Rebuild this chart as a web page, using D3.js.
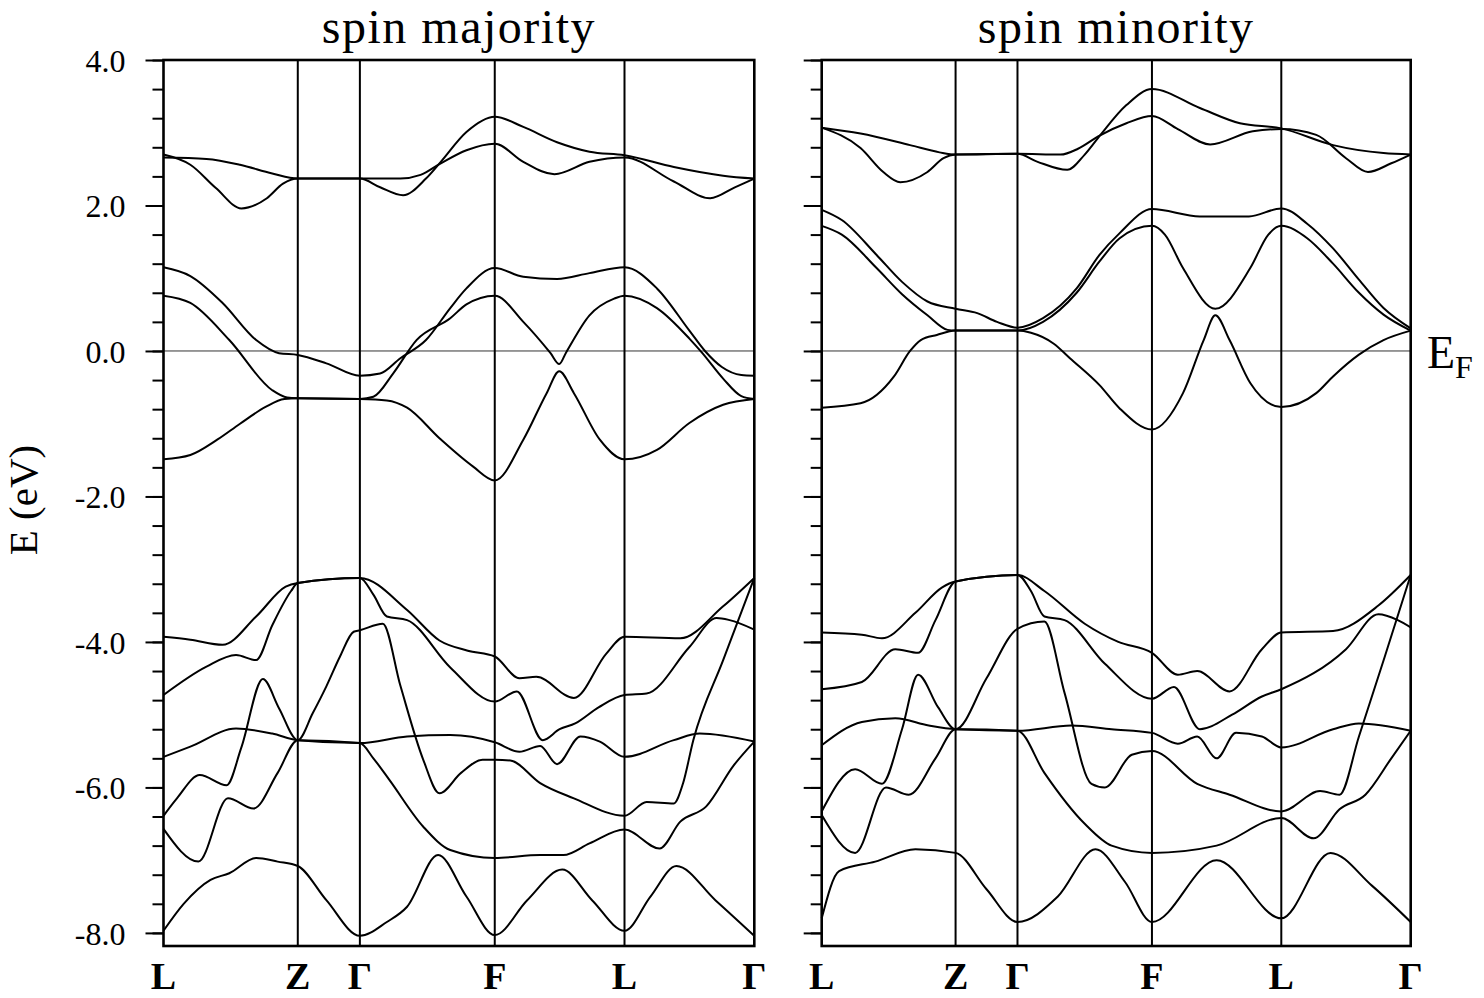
<!DOCTYPE html>
<html>
<head>
<meta charset="utf-8">
<script src="https://cdn.jsdelivr.net/npm/d3@7"></script>
<style>
  body { margin: 0; background: #fff; }
  text { font-family: "Liberation Serif", "DejaVu Serif", serif; fill: #000; }
</style>
</head>
<body>
<div class="bands"></div>
<script>
// k-path
const kLabels = ["L", "Z", "Γ", "F", "L", "Γ"];
const kNodes = [0, 1, 2, 3, 4, 5];
const kFrac = [0, 0.2273, 0.3324, 0.5607, 0.7803, 1];

// energy ticks (eV)
const yMajor = [4, 2, 0, -2, -4, -6, -8];
const yMinor = d3.range(-8, 4.01, 0.4);

// spin majority bands: [k node coordinate, E (eV)]
const maj_c1 = [[0,2.70],[0.2,2.56],[0.39,2.24],[0.58,1.96],[0.77,2.10],[0.89,2.30],[1,2.37],[2,2.37],[2.15,2.25],[2.32,2.14],[2.49,2.37],[2.6,2.6],[2.79,3.01],[3,3.22],[3.22,3.08],[3.48,2.87],[3.73,2.74],[4,2.69],[4.38,2.53],[4.76,2.41],[5,2.37]];
const maj_c2 = [[0,2.66],[0.32,2.64],[0.57,2.56],[0.81,2.44],[1,2.37],[2,2.37],[2.3,2.37],[2.45,2.42],[2.6,2.58],[2.79,2.76],[3,2.85],[3.22,2.60],[3.46,2.43],[3.73,2.60],[4,2.66],[4.38,2.33],[4.66,2.10],[4.85,2.25],[5,2.37]];
const maj_b1 = [[0,1.15],[0.2,1.03],[0.44,0.66],[0.69,0.15],[0.86,-0.03],[1,-0.055],[1.46,-0.17],[2,-0.34],[2.15,-0.31],[2.3,-0.1],[2.49,0.15],[2.67,0.59],[2.79,0.86],[3,1.14],[3.22,1.02],[3.48,0.99],[3.73,1.07],[4,1.15],[4.25,0.86],[4.5,0.28],[4.62,0.0],[4.75,-0.22],[4.9,-0.33],[5,-0.34]];
const maj_b2 = [[0,0.76],[0.2,0.66],[0.49,0.15],[0.81,-0.54],[0.92,-0.64],[1,-0.65],[2,-0.66],[2.1,-0.63],[2.25,-0.3],[2.42,0.15],[2.67,0.45],[2.79,0.64],[3,0.76],[3.22,0.40],[3.43,-0.03],[3.497,-0.18],[3.55,-0.02],[3.73,0.49],[3.92,0.72],[4,0.76],[4.25,0.59],[4.5,0.17],[4.6,-0.03],[4.76,-0.38],[4.9,-0.62],[5,-0.66]];
const maj_b3 = [[0,-1.49],[0.2,-1.43],[0.4,-1.22],[0.57,-1.0],[0.76,-0.77],[0.9,-0.66],[1,-0.65],[2,-0.66],[2.2,-0.68],[2.35,-0.78],[2.59,-1.2],[2.84,-1.59],[3,-1.78],[3.22,-1.22],[3.4,-0.58],[3.497,-0.28],[3.61,-0.58],[3.81,-1.22],[4,-1.49],[4.25,-1.36],[4.5,-0.99],[4.76,-0.74],[5,-0.66]];
const maj_t1 = [[0,-3.93],[0.2,-3.97],[0.44,-4.04],[0.69,-3.65],[0.91,-3.24],[1,-3.19],[2,-3.12],[2.35,-3.56],[2.59,-3.98],[2.8,-4.12],[3,-4.20],[3.19,-4.50],[3.32,-4.48],[3.61,-4.77],[3.86,-4.16],[4,-3.93],[4.43,-3.95],[4.76,-3.51],[5,-3.12]];
const maj_t2 = [[0,-4.73],[0.32,-4.34],[0.54,-4.18],[0.69,-4.25],[0.81,-3.77],[0.95,-3.3],[1,-3.19],[2,-3.12],[2.1,-3.35],[2.2,-3.65],[2.35,-3.70],[2.67,-4.35],[3,-4.82],[3.17,-4.68],[3.37,-5.35],[3.5,-5.2],[3.62,-5.12],[3.8,-4.9],[4,-4.73],[4.17,-4.71],[4.5,-4.07],[4.71,-3.67],[4.81,-3.70],[5,-3.83]];
const maj_s = [[0,-6.39],[0.1,-6.15],[0.27,-5.83],[0.47,-5.97],[0.58,-5.45],[0.74,-4.51],[0.86,-4.91],[1,-5.35],[1.24,-4.98],[1.46,-4.61],[1.68,-4.20],[1.9,-3.86],[2,-3.84],[2.17,-3.75],[2.3,-4.6],[2.47,-5.62],[2.59,-6.08],[2.75,-5.8],[2.91,-5.62],[3,-5.62],[3.12,-5.63],[3.35,-5.94],[3.61,-6.15],[4,-6.39],[4.17,-6.2],[4.38,-6.22],[4.45,-5.95],[4.53,-5.35],[4.76,-4.25],[5,-3.12]];
const maj_b5 = [[0,-5.58],[0.2,-5.44],[0.54,-5.19],[0.81,-5.26],[1,-5.35],[2,-5.39],[2.35,-5.30],[2.67,-5.28],[3,-5.38],[3.19,-5.51],[3.35,-5.43],[3.48,-5.68],[3.66,-5.30],[3.81,-5.37],[4,-5.58],[4.38,-5.35],[4.58,-5.26],[5,-5.37]];
const maj_b6 = [[0,-6.57],[0.26,-7.02],[0.48,-6.15],[0.67,-6.29],[0.85,-5.8],[1,-5.35],[2,-5.39],[2.1,-5.6],[2.22,-5.90],[2.47,-6.54],[2.67,-6.86],[3,-6.97],[3.35,-6.93],[3.53,-6.93],[3.73,-6.77],[4,-6.58],[4.27,-6.84],[4.43,-6.47],[4.63,-6.26],[4.84,-5.7],[5,-5.37]];
const maj_b7 = [[0,-7.97],[0.15,-7.6],[0.35,-7.27],[0.49,-7.18],[0.69,-6.97],[0.85,-7.02],[1,-7.08],[1.46,-7.55],[2,-8.04],[2.2,-7.85],[2.35,-7.64],[2.58,-6.93],[2.79,-7.5],[3,-8.03],[3.25,-7.55],[3.52,-7.13],[3.75,-7.55],[4,-7.97],[4.2,-7.5],[4.4,-7.08],[4.7,-7.55],[5,-8.04]];

// spin minority bands
const min_c1 = [[0,3.07],[0.29,2.79],[0.46,2.46],[0.587,2.32],[0.79,2.46],[0.91,2.65],[1,2.70],[2,2.71],[2.15,2.6],[2.37,2.49],[2.5,2.7],[2.6,2.93],[2.81,3.38],[3,3.60],[3.37,3.34],[3.68,3.13],[4,3.06],[4.4,2.83],[4.79,2.72],[5,2.70]];
const min_c2 = [[0,3.07],[0.29,2.99],[0.66,2.83],[0.88,2.73],[1,2.70],[2,2.71],[2.32,2.70],[2.45,2.78],[2.6,2.95],[2.81,3.13],[3,3.23],[3.2,3.05],[3.45,2.84],[3.78,3.02],[4,3.05],[4.27,2.97],[4.5,2.65],[4.67,2.46],[4.85,2.58],[5,2.70]];
const min_b1 = [[0,1.94],[0.15,1.8],[0.41,1.32],[0.6,0.95],[0.79,0.68],[1,0.58],[1.35,0.52],[1.67,0.40],[2,0.32],[2.19,0.45],[2.44,0.86],[2.61,1.32],[2.76,1.62],[3,1.95],[3.37,1.85],[3.75,1.85],[4,1.96],[4.2,1.75],[4.4,1.41],[4.6,0.98],[4.79,0.59],[5,0.31]];
const min_b2 = [[0,1.72],[0.15,1.6],[0.41,1.14],[0.6,0.78],[0.79,0.49],[0.94,0.29],[1,0.28],[2,0.28],[2.19,0.4],[2.44,0.8],[2.61,1.23],[2.76,1.55],[3,1.72],[3.1,1.6],[3.24,1.14],[3.49,0.58],[3.76,1.14],[3.9,1.6],[4,1.72],[4.2,1.55],[4.4,1.2],[4.6,0.8],[4.79,0.5],[5,0.28]];
const min_b3 = [[0,-0.78],[0.29,-0.72],[0.54,-0.35],[0.66,0.0],[0.74,0.15],[0.86,0.22],[1,0.28],[2,0.28],[2.1,0.25],[2.27,0.1],[2.39,-0.1],[2.61,-0.47],[2.76,-0.79],[3,-1.08],[3.24,-0.58],[3.4,0.15],[3.49,0.49],[3.6,0.15],[3.76,-0.44],[4,-0.77],[4.27,-0.58],[4.4,-0.35],[4.6,-0.05],[4.79,0.15],[5,0.28]];
const min_t1 = [[0,-3.87],[0.3,-3.9],[0.45,-3.95],[0.7,-3.6],[0.9,-3.25],[1,-3.17],[2,-3.08],[2.2,-3.3],[2.5,-3.75],[2.75,-4.0],[3,-4.15],[3.2,-4.45],[3.35,-4.4],[3.6,-4.68],[3.85,-4.1],[4,-3.87],[4.4,-3.85],[4.75,-3.5],[5,-3.08]];
const min_t2 = [[0,-4.65],[0.3,-4.55],[0.55,-4.1],[0.72,-4.15],[0.85,-3.7],[1,-3.17],[2,-3.08],[2.1,-3.3],[2.2,-3.65],[2.35,-3.7],[2.65,-4.3],[3,-4.78],[3.17,-4.62],[3.37,-5.2],[3.62,-5.0],[3.85,-4.75],[4,-4.65],[4.5,-4.1],[4.75,-3.62],[4.9,-3.7],[5,-3.8]];
const min_s = [[0,-6.33],[0.25,-5.75],[0.45,-5.95],[0.6,-5.2],[0.72,-4.45],[0.87,-4.9],[1,-5.2],[1.5,-4.5],[2,-3.82],[2.2,-3.72],[2.35,-4.7],[2.55,-5.95],[2.65,-6.0],[2.85,-5.55],[3,-5.5],[3.35,-5.95],[3.6,-6.1],[4,-6.33],[4.3,-6.05],[4.45,-6.1],[4.6,-5.3],[4.8,-4.2],[5,-3.08]];
const min_b5 = [[0,-5.42],[0.3,-5.1],[0.55,-5.05],[0.8,-5.15],[1,-5.2],[2,-5.22],[2.4,-5.15],[2.7,-5.2],[3,-5.25],[3.2,-5.4],[3.35,-5.3],[3.5,-5.6],[3.65,-5.25],[3.85,-5.3],[4,-5.45],[4.4,-5.2],[4.6,-5.12],[5,-5.22]];
const min_b6 = [[0,-6.38],[0.25,-6.9],[0.48,-6.0],[0.65,-6.1],[0.85,-5.6],[1,-5.2],[2,-5.22],[2.2,-5.8],[2.5,-6.5],[2.7,-6.8],[3,-6.9],[3.5,-6.8],[4,-6.42],[4.25,-6.7],[4.45,-6.3],[4.65,-6.1],[4.85,-5.6],[5,-5.22]];
const min_b7 = [[0,-7.8],[0.13,-7.15],[0.4,-7.02],[0.7,-6.85],[1,-6.9],[1.5,-7.4],[2,-7.85],[2.3,-7.5],[2.58,-6.85],[2.8,-7.3],[3,-7.85],[3.5,-7.0],[4,-7.8],[4.38,-6.9],[4.7,-7.35],[5,-7.85]];

const majBands = [maj_c1, maj_c2, maj_b1, maj_b2, maj_b3, maj_t1, maj_t2, maj_s, maj_b5, maj_b6, maj_b7];
const minBands = [min_c1, min_c2, min_b1, min_b2, min_b3, min_t1, min_t2, min_s, min_b5, min_b6, min_b7];

// Mesures
const size = { width: 1484, height: 998 };
const plot = { top: 60, bottom: 946 };
const panels = [
  { title: "spin majority", x0: 163.5, w: 590.8, bands: majBands, labels: true },
  { title: "spin minority", x0: 821.7, w: 589, bands: minBands, labels: false }
];

const svg = d3.select(".bands")
  .append("svg")
  .attr("width", size.width)
  .attr("height", size.height);

const y = d3.scaleLinear().domain([-8.18, 4]).range([plot.bottom, plot.top]);

panels.forEach((p) => {
  const x = d3.scaleLinear().domain(kNodes).range(kFrac.map((f) => p.x0 + f * p.w));
  const g = svg.append("g");

  // minor + major ticks on the left side
  g.append("g")
    .attr("transform", `translate(${p.x0},0)`)
    .call(d3.axisLeft(y).tickValues(yMinor).tickSize(11).tickFormat(""))
    .call((a) => a.select(".domain").remove())
    .selectAll("line").attr("stroke", "#000").attr("stroke-width", 2);

  const major = g.append("g")
    .attr("transform", `translate(${p.x0},0)`)
    .call(d3.axisLeft(y).tickValues(yMajor).tickSize(18).tickPadding(20));
  major.select(".domain").remove();
  major.selectAll("line").attr("stroke", "#000").attr("stroke-width", 2);
  major.selectAll("text")
    .attr("font-family", "Liberation Serif")
    .attr("font-size", 32)
    .attr("dy", "0.35em")
    .text((d) => p.labels ? d3.format(".1f")(d).replace("−", "-") : "");

  // Fermi level
  g.append("line")
    .attr("x1", p.x0).attr("x2", p.x0 + p.w)
    .attr("y1", y(0)).attr("y2", y(0))
    .attr("stroke", "#333").attr("stroke-width", 1);

  // high symmetry lines
  g.selectAll(".ksym")
    .data(kNodes.slice(1, -1))
    .enter()
    .append("line")
    .attr("x1", (d) => x(d)).attr("x2", (d) => x(d))
    .attr("y1", plot.top).attr("y2", plot.bottom)
    .attr("stroke", "#000").attr("stroke-width", 2);

  // bands
  const line = d3.line()
    .x((d) => x(d[0]))
    .y((d) => y(d[1]))
    .curve(d3.curveMonotoneX);

  g.selectAll(".band")
    .data(p.bands)
    .enter()
    .append("path")
    .attr("d", line)
    .attr("fill", "none")
    .attr("stroke", "#000")
    .attr("stroke-width", 2);

  // frame
  g.append("rect")
    .attr("x", p.x0).attr("y", plot.top)
    .attr("width", p.w).attr("height", plot.bottom - plot.top)
    .attr("fill", "none").attr("stroke", "#000").attr("stroke-width", 2.6);

  // k labels
  g.selectAll(".klab")
    .data(kNodes)
    .enter()
    .append("text")
    .attr("x", (d) => x(d))
    .attr("y", 989)
    .attr("text-anchor", "middle")
    .attr("font-size", 38)
    .attr("font-weight", "bold")
    .text((d) => kLabels[d]);

  // title
  g.append("text")
    .attr("x", p.x0 + p.w / 2)
    .attr("y", 43)
    .attr("text-anchor", "middle")
    .attr("font-size", 48)
    .attr("letter-spacing", 1.5)
    .text(p.title);
});

// y axis title
svg.append("text")
  .attr("transform", "translate(37,500) rotate(-90)")
  .attr("text-anchor", "middle")
  .attr("font-size", 41)
  .text("E (eV)");

// Fermi label
const ef = svg.append("text")
  .attr("x", 1427)
  .attr("y", 368)
  .attr("font-size", 46);
ef.append("tspan").text("E");
ef.append("tspan").attr("dy", 10).attr("font-size", 32).text("F");
</script>
</body>
</html>
